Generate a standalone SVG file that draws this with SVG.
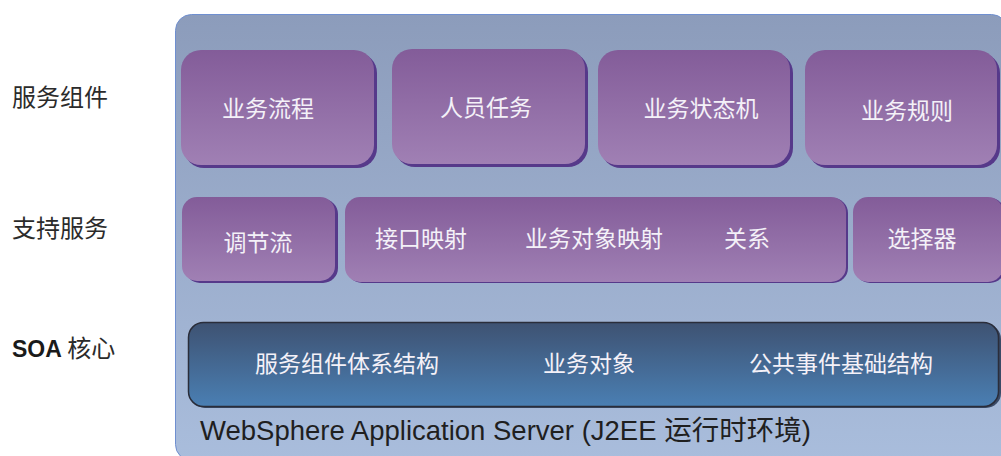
<svg xmlns="http://www.w3.org/2000/svg" width="1001" height="456" viewBox="0 0 1001 456">
  <defs>
    <linearGradient id="gCont" x1="0" y1="0" x2="0" y2="1">
      <stop offset="0" stop-color="#8c9cbb"/>
      <stop offset="1" stop-color="#a9bddc"/>
    </linearGradient>
    <linearGradient id="gPurple" x1="0" y1="0" x2="0" y2="1">
      <stop offset="0" stop-color="#835c99"/>
      <stop offset="1" stop-color="#a080b4"/>
    </linearGradient>
    <linearGradient id="gBlue" x1="0" y1="0" x2="0" y2="1">
      <stop offset="0" stop-color="#3e5272"/>
      <stop offset="1" stop-color="#4a7fb3"/>
    </linearGradient>
  </defs>
  <style>
    .lbl { font-family: "Noto Sans CJK SC", "Liberation Sans", sans-serif; font-size: 24px; fill: #2b2b2b; }
    .box { fill: url(#gPurple); }
    .shadow { fill: #56398a; }
    .t { font-family: "Noto Sans CJK SC", sans-serif; font-size: 23px; fill: #f4f1f8; text-anchor: middle; }
    .core { fill: url(#gBlue); stroke: #2a2d3a; stroke-width: 1.5; }
  </style>
  <rect width="1001" height="456" fill="#ffffff"/>

  <g id="left-labels">
    <text class="lbl" x="12" y="106">服务组件</text>
    <text class="lbl" x="12" y="237">支持服务</text>
    <text class="lbl" x="12" y="357"><tspan font-family="Liberation Sans, sans-serif" font-weight="bold" font-size="23" fill="#1a1a1a">SOA</tspan> 核心</text>
  </g>

  <g id="container">
    <rect x="175.5" y="14.5" width="832" height="446" rx="16" fill="url(#gCont)" stroke="#6f8fd0" stroke-width="1"/>
    <text x="200" y="440" font-family="Liberation Sans, Noto Sans CJK SC, sans-serif" font-size="27.5" fill="#1f1f1f">WebSphere Application Server (J2EE 运行时环境)</text>
  </g>

  <g id="n-yewuliucheng">
    <rect class="shadow" x="184" y="53" width="193" height="115" rx="20"/>
    <rect class="box" x="181" y="50" width="193" height="115" rx="20"/>
    <text class="t" x="268" y="117">业务流程</text>
  </g>
  <g id="n-renyuanrenwu">
    <rect class="shadow" x="395" y="52" width="193" height="115" rx="20"/>
    <rect class="box" x="392" y="49" width="193" height="115" rx="20"/>
    <text class="t" x="486" y="116">人员任务</text>
  </g>
  <g id="n-zhuangtaiji">
    <rect class="shadow" x="601" y="53" width="192" height="115" rx="20"/>
    <rect class="box" x="598" y="50" width="192" height="115" rx="20"/>
    <text class="t" x="701" y="117">业务状态机</text>
  </g>
  <g id="n-guize">
    <rect class="shadow" x="808" y="53" width="192" height="115" rx="20"/>
    <rect class="box" x="805" y="50" width="192" height="115" rx="20"/>
    <text class="t" x="907" y="119">业务规则</text>
  </g>

  <g id="n-tiaojieliu">
    <rect class="shadow" x="185" y="199" width="153" height="84" rx="15"/>
    <rect class="box" x="182" y="197" width="153" height="84" rx="15"/>
    <text class="t" x="258" y="251">调节流</text>
  </g>
  <g id="n-yingshe">
    <rect class="shadow" x="347" y="198" width="501" height="85" rx="15"/>
    <rect class="box" x="345" y="197" width="501" height="85" rx="15"/>
    <text class="t" x="421" y="247">接口映射</text>
    <text class="t" x="594" y="247">业务对象映射</text>
    <text class="t" x="747" y="247">关系</text>
  </g>
  <g id="n-xuanzeqi">
    <rect class="shadow" x="855" y="198" width="150" height="85" rx="15"/>
    <rect class="box" x="853" y="197" width="150" height="85" rx="15"/>
    <text class="t" x="922" y="247">选择器</text>
  </g>

  <g id="n-soa-core">
    <rect x="190" y="324" width="811" height="84" rx="15" fill="#3a4a66"/>
    <rect class="core" x="188.5" y="322.5" width="810" height="84" rx="15"/>
    <text class="t" x="347" y="372">服务组件体系结构</text>
    <text class="t" x="589" y="372">业务对象</text>
    <text class="t" x="841" y="372">公共事件基础结构</text>
  </g>

  <g id="connectors"/>
</svg>
